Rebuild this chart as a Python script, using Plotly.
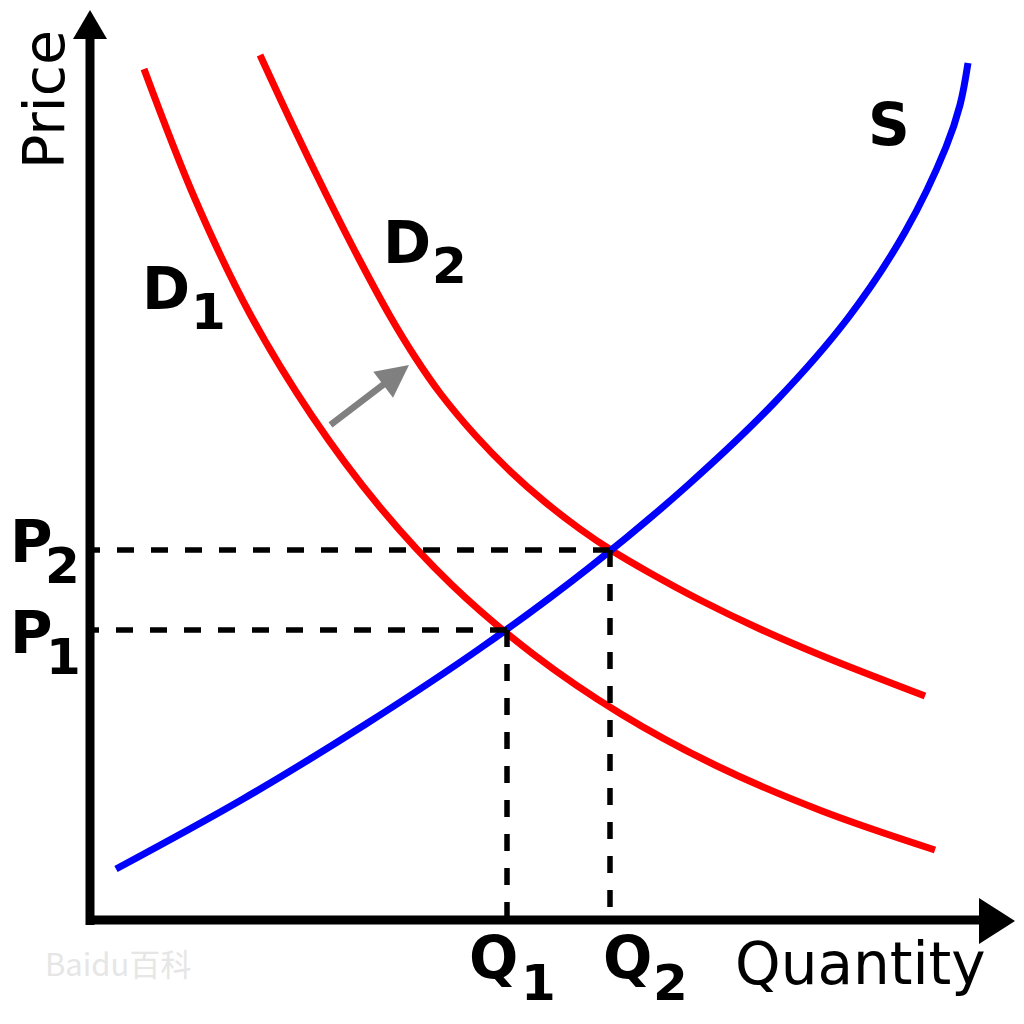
import plotly.graph_objects as go

# ---- data (quantity q, price p; origin at the axes corner) ----
d1_q = [54, 105, 160, 222, 289, 362, 443, 531, 627, 732, 845]
d1_p = [851, 721, 606, 504, 414, 335, 266, 206, 154, 109, 70]

d2_q = [170, 203, 236, 268, 300, 325, 350, 385, 420, 455, 490, 521, 560, 610, 670, 735, 835]
d2_p = [865, 794, 726, 663, 604, 563, 527, 485, 449, 418, 391, 370, 347, 320, 291, 263, 224]

s_q = [26, 153, 276, 392, 500, 598, 685, 758, 815, 856, 870, 878]
s_p = [51, 121, 196, 273, 353, 435, 518, 602, 688, 773, 815, 857]

eq_q = [417, 520]   # Q1, Q2
eq_p = [290, 370]   # P1, P2

shift_from = (239, 494)
shift_to = (319, 555)

Q_MAX = 934
P_MAX = 920
Q_MIN = -90
P_MIN = -104

FONT = "DejaVu Sans"
RED = "#ff0000"
BLUE = "#0000ff"
LW = 7

fig = go.Figure()

for xs, ys, col in [(d1_q, d1_p, RED), (d2_q, d2_p, RED), (s_q, s_p, BLUE)]:
    fig.add_trace(go.Scatter(x=xs, y=ys, mode="lines",
                             line=dict(color=col, width=LW, shape="spline", smoothing=1.0),
                             hoverinfo="skip"))

shapes = []
# dashed guide lines, drawn from the equilibrium towards the axes
for q, p in zip(eq_q, eq_p):
    shapes.append(dict(type="line", xref="x", yref="y", x0=q, y0=p, x1=0, y1=p,
                       line=dict(color="black", width=5.5, dash="17px,17px")))
    shapes.append(dict(type="line", xref="x", yref="y", x0=q, y0=p, x1=q, y1=0,
                       line=dict(color="black", width=5.5, dash="17px,17px")))

# axes
ax_end_q = Q_MAX - 45
ax_end_p = P_MAX - 39
shapes.append(dict(type="line", xref="x", yref="y", x0=-4, y0=0, x1=ax_end_q, y1=0,
                   line=dict(color="black", width=9)))
shapes.append(dict(type="line", xref="x", yref="y", x0=0, y0=-5, x1=0, y1=ax_end_p,
                   line=dict(color="black", width=9)))
# arrowheads
shapes.append(dict(type="path", xref="x", yref="y",
                   path=f"M {ax_end_q},22 L {ax_end_q + 36},-1 L {ax_end_q},-24 Z",
                   fillcolor="black", line=dict(color="black", width=0)))
shapes.append(dict(type="path", xref="x", yref="y",
                   path=f"M -17,{ax_end_p} L 0,{ax_end_p + 29} L 17,{ax_end_p} Z",
                   fillcolor="black", line=dict(color="black", width=0)))

fig.update_layout(shapes=shapes)

ann = []

def label(text, q, p, size, bold=True, angle=0, color="black", family=FONT):
    ann.append(dict(text=(f"<b>{text}</b>" if bold else text), x=q, y=p, xref="x", yref="y",
                    showarrow=False, xanchor="center", yanchor="middle", textangle=angle,
                    borderpad=0,
                    font=dict(family=family, size=size, color=color)))

label("Price", -46, 820, 57, bold=False, angle=-90)
label("Quantity", 770, -44, 58, bold=False)
label("S", 799, 795, 58)
label("D", 76, 631, 58)
label("1", 118, 608, 50)
label("D", 317, 677, 58)
label("2", 359, 654, 50)
label("P", -59, 378, 58)
label("2", -28, 354, 50)
label("P", -59, 287, 58)
label("1", -27, 263, 50)
label("Q", 403, -38, 58)
label("1", 448, -63, 50)
label("Q", 537, -38, 58)
label("2", 580, -63, 50)
label("Baidu百科", 28, -42, 31, bold=False, color="#e6e6e6", family="Noto Sans CJK SC")

# shift arrow
ann.append(dict(text="", x=shift_to[0], y=shift_to[1], ax=shift_from[0], ay=shift_from[1],
                xref="x", yref="y", axref="x", ayref="y", showarrow=True,
                arrowhead=2, arrowsize=1, arrowwidth=6.5, arrowcolor="#808080"))

fig.update_layout(
    annotations=ann,
    width=1024, height=1024,
    margin=dict(l=0, r=0, t=0, b=0),
    paper_bgcolor="white", plot_bgcolor="white",
    showlegend=False,
    xaxis=dict(range=[Q_MIN, Q_MAX], visible=False, fixedrange=True),
    yaxis=dict(range=[P_MIN, P_MAX], visible=False, fixedrange=True),
)

fig.write_html("out.html", config={"displayModeBar": False},
               post_script="document.body.style.margin='0';document.body.style.overflow='hidden';")
